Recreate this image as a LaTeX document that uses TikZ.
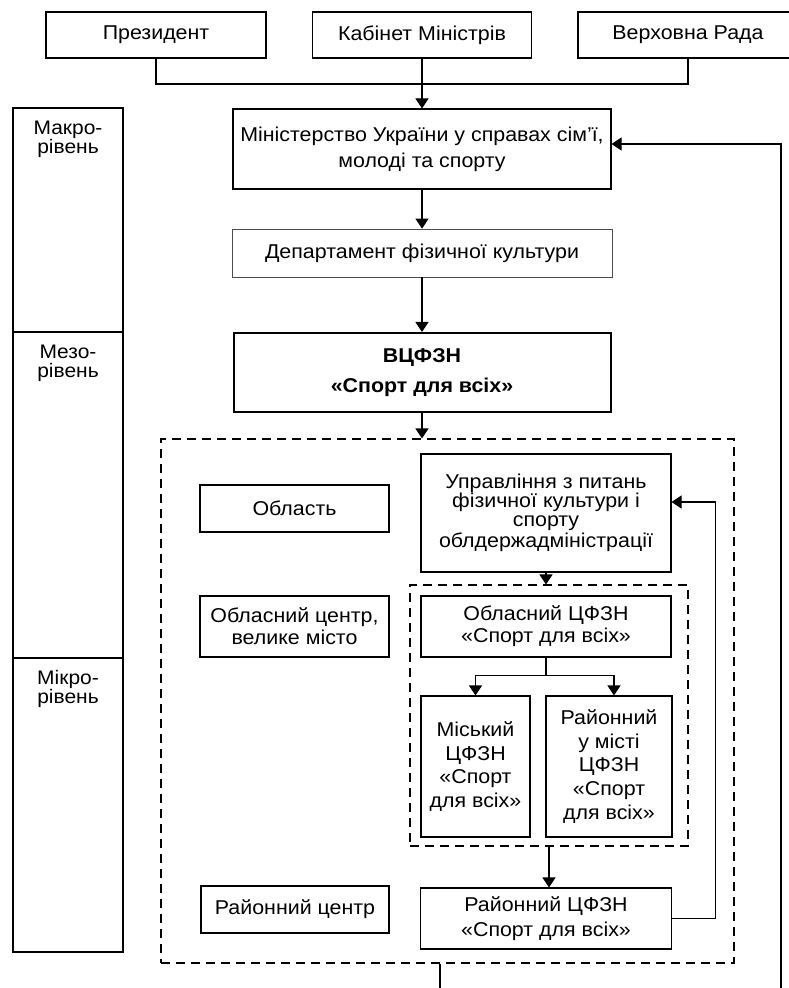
\documentclass[tikz,border=0pt]{standalone}
\usepackage{fontspec}
\setmainfont{Liberation Sans}[FakeStretch=1.07]
\usetikzlibrary{arrows.meta}

\tikzset{
  blk/.style={draw, line width=0.55pt, align=center, inner sep=0pt, font=\fontsize{10}{11}\selectfont},
  dashfrm/.style={draw, dash pattern=on 4.5pt off 3pt, line width=0.55pt, inner sep=0pt},
  lvl/.style={draw, line width=0.55pt, inner sep=0pt, minimum width=55pt},
  lvltxt/.style={align=center, inner sep=0pt, font=\fontsize{9.8}{9.6}\selectfont},
  arr/.style={-{Triangle[length=5pt,width=6.5pt]}, line width=0.55pt},
  ln/.style={line width=0.55pt}
}

\begin{document}
\begin{tikzpicture}[x=0.5pt,y=-0.5pt]
	\useasboundingbox (0,0) rectangle (788,988);
	\def\toph{23pt}

	% top level
	\node[blk, minimum width=110pt, minimum height=\toph] (pres) at (156,35) {Президент};
	\node[blk, minimum width=109.5pt, minimum height=\toph] (kab) at (422,35) {Кабінет Міністрів};
	\node[blk, minimum width=110pt, minimum height=\toph] (rada) at (688,35) {Верховна Рада};

	\node[blk, minimum width=189pt, minimum height=40pt, font=\fontsize{10}{13}\selectfont] (min) at (422,149) {Міністерство України у справах сім'ї,\\молоді та спорту};
	\node[blk, draw=black!70, line width=0.35pt, minimum width=190pt, minimum height=24pt] (dep) at (422,253) {Департамент фізичної культури};
	\node[blk, line width=1pt, minimum width=188.5pt, minimum height=39.5pt, font=\fontsize{10}{15}\selectfont\bfseries] (vc) at (422,372.5) {ВЦФЗН\\«Спорт для всіх»};

	\draw[ln] (pres.south) -- (156,84) -- (688,84) -- (rada.south);
	\draw[arr] (kab.south) -- (min.north);
	\draw[arr] (min.south) -- (dep.north);
	\draw[arr] (dep.south) -- (vc.north);

	% levels
	\node[lvl, minimum height=112pt] (makro) at (68,220) {};
	\node[lvl, minimum height=163pt] (mezo) at (68,495) {};
	\node[lvl, minimum height=147pt] (mikro) at (68,805) {};
	\node[lvltxt, anchor=north] (makrot) at ([yshift=-6.5pt]makro.north) {Макро-\\рівень};
	\node[lvltxt, anchor=north] (mezot) at ([yshift=-6.5pt]mezo.north) {Мезо-\\рівень};
	\node[lvltxt, anchor=north] (mikrot) at ([yshift=-6pt]mikro.north) {Мікро-\\рівень};

	% regional part
	\node[dashfrm, minimum width=286.5pt, minimum height=262pt] (outer) at (447.5,701) {};
	\draw[arr] (vc.south) -- (vc.south |- outer.north);

	\node[blk, minimum width=94.5pt, minimum height=23.5pt] (obl) at (294.5,508.5) {Область};
	\node[blk, minimum width=125pt, minimum height=59pt, font=\fontsize{10}{9.4}\selectfont] (upr) at (546,513) {Управління з питань\\фізичної культури і\\спорту\\облдержадміністрації};

	\node[dashfrm, minimum width=139pt, minimum height=130.5pt] (inner) at (549,715.5) {};
	\draw[arr] (upr.south) -- (upr.south |- inner.north);

	\node[blk, minimum width=94.5pt, minimum height=30.5pt] (oblcentr) at (294.5,626.5) {Обласний центр,\\велике місто};
	\node[blk, minimum width=125pt, minimum height=30.5pt] (oblc) at (546,626.5) {Обласний ЦФЗН\\«Спорт для всіх»};
	\node[blk, minimum width=54.5pt, minimum height=70.5pt, font=\fontsize{10}{11.8}\selectfont] (misk) at (475.5,766.5) {Міський\\ЦФЗН\\«Спорт\\для всіх»};
	\node[blk, minimum width=63pt, minimum height=70.5pt, font=\fontsize{10}{11.8}\selectfont] (rajm) at (609,766.5) {Районний\\у місті\\ЦФЗН\\«Спорт\\для всіх»};

	\draw[ln] (oblc.south) -- ++(0,18) coordinate (br);
	\draw[arr] (br) -| (misk.north);
	\draw[arr] (br) -| ([xshift=2.5pt]rajm.north);

	\node[blk, minimum width=94pt, minimum height=23.5pt] (rajcentr) at (295,909.5) {Районний центр};
	\node[blk, minimum width=125.5pt, minimum height=30.5pt, font=\fontsize{10}{12.5}\selectfont] (rajc) at (546,918.5) {Районний ЦФЗН\\«Спорт для всіх»};
	\draw[arr] (inner.south) -- (inner.south |- rajc.north);

	% feedback
	\draw[arr] (rajc.east) -- ++(43,0) |- ([yshift=5.5pt]upr.east);
	\coordinate (fb) at (781,990);
	\draw[arr] (fb) |- ([yshift=2.5pt]min.east);
	\coordinate (down) at (440,990);
	\draw[ln] (outer.south -| down) -- (down);

\end{tikzpicture}
\end{document}
